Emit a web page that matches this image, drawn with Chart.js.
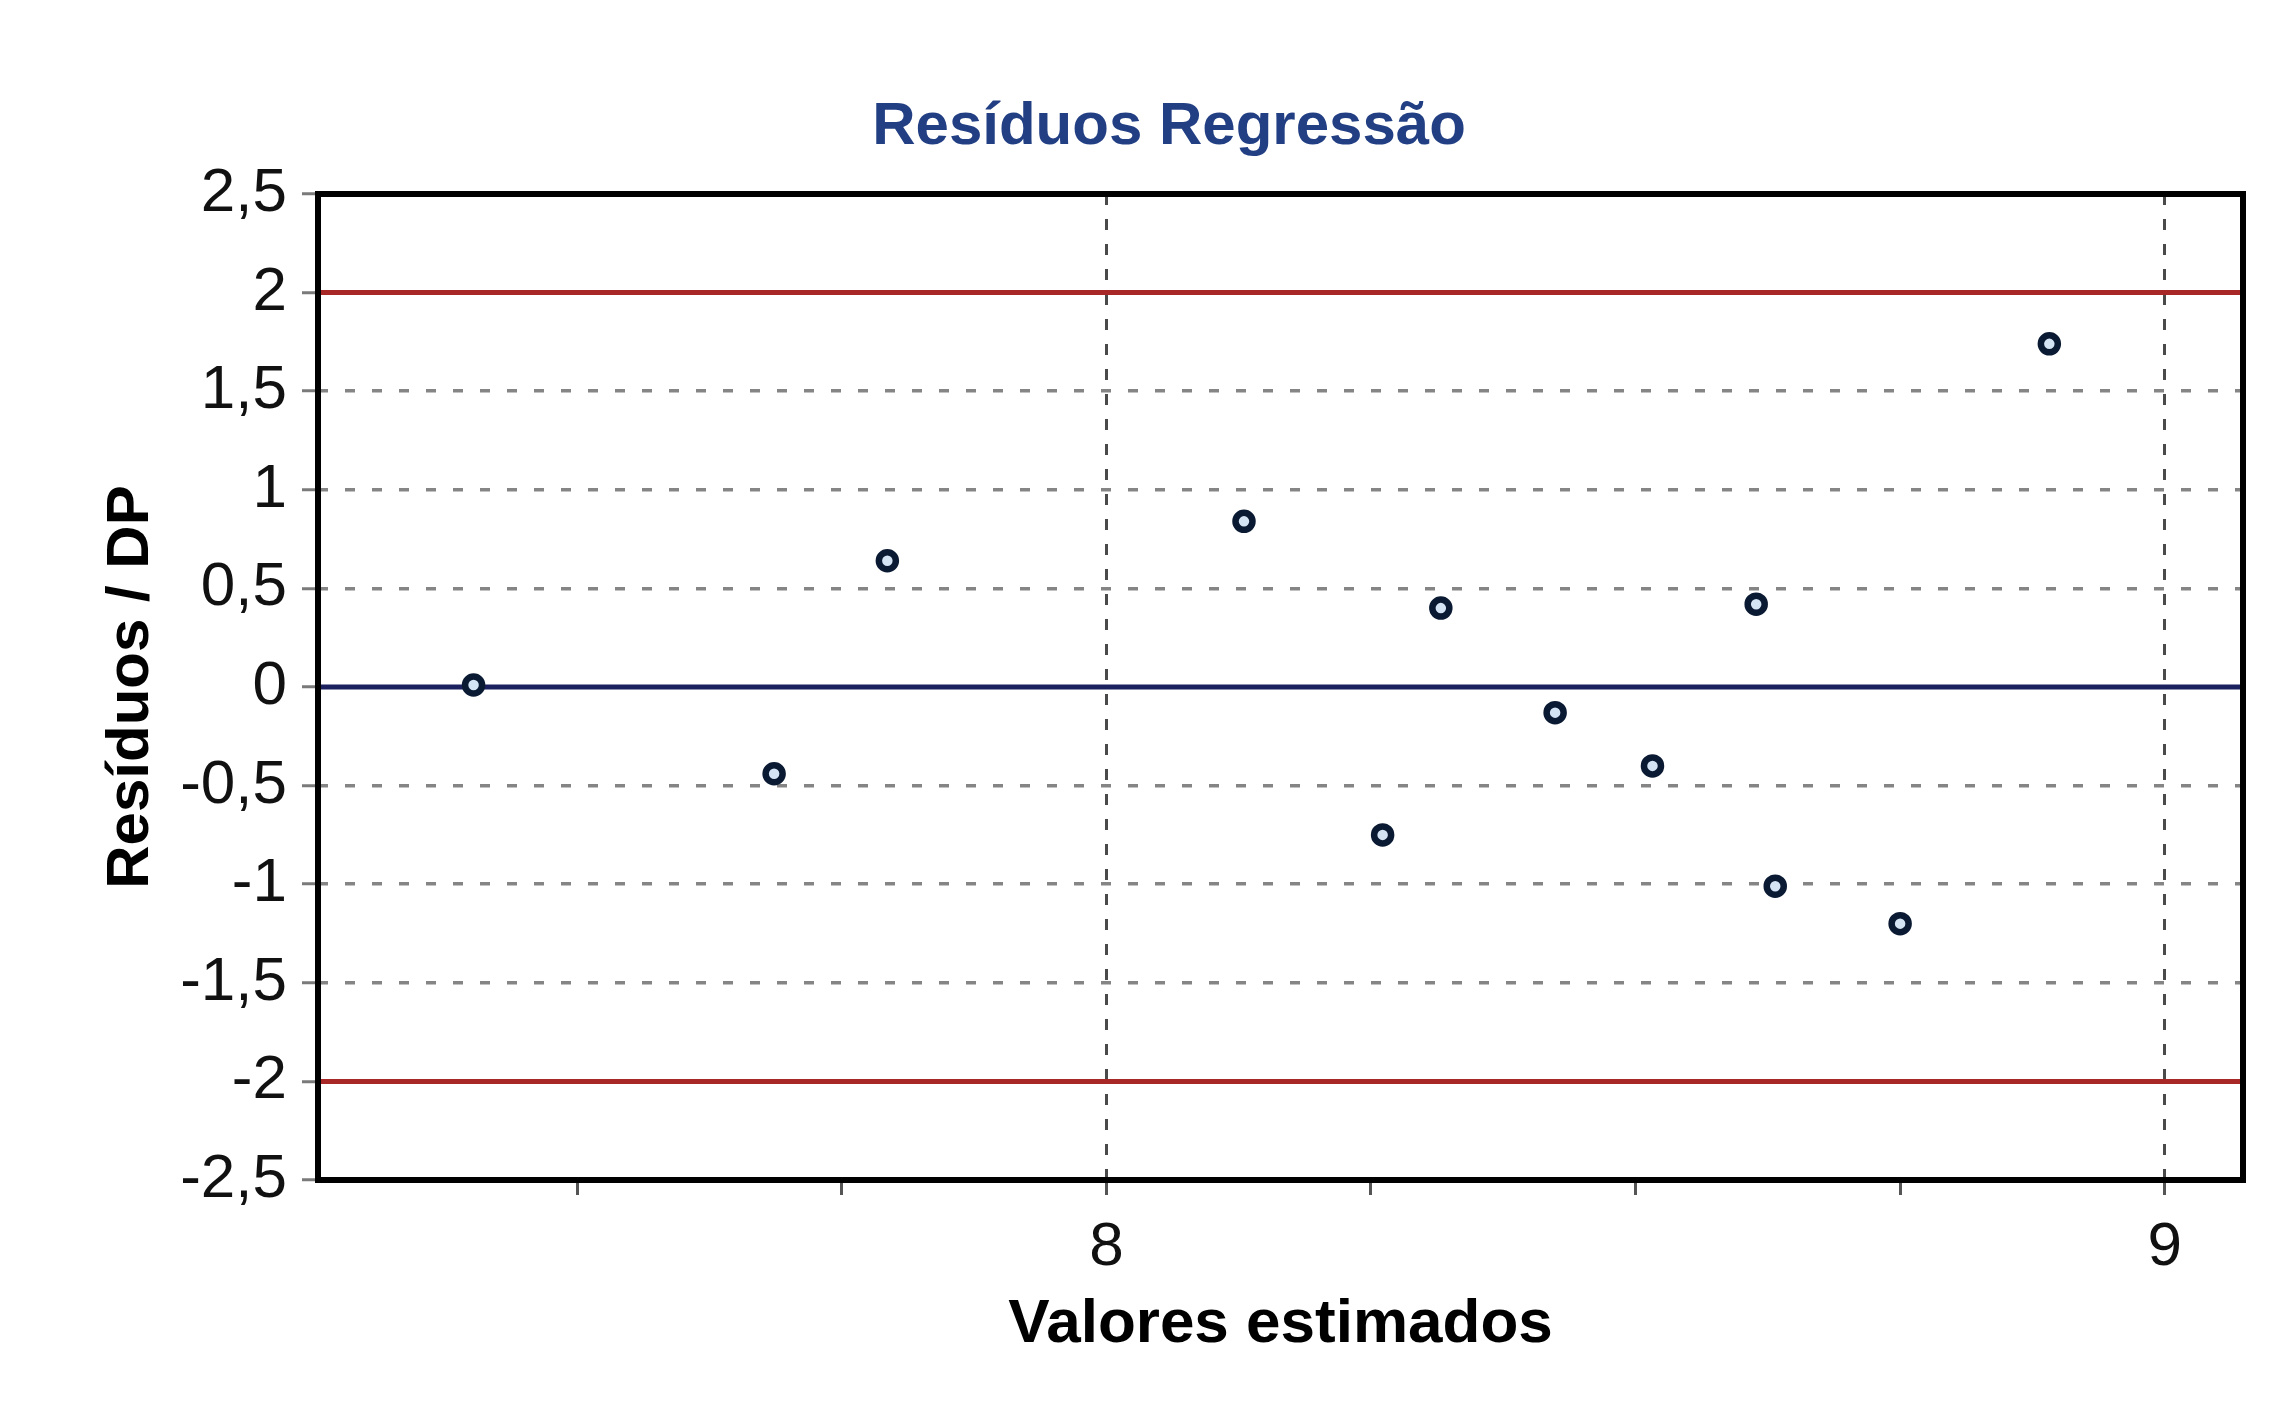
<!DOCTYPE html>
<html lang="pt">
<head>
<meta charset="utf-8">
<title>Resíduos Regressão</title>
<script src="https://cdn.jsdelivr.net/npm/chart.js@4/dist/chart.umd.min.js"></script>
<style>
  html, body { margin: 0; padding: 0; background: #ffffff; }
  canvas { display: block; }
</style>
</head>
<body>
<canvas id="residuos" width="2284" height="1404"></canvas>
<script>
// Valores estimados (eixo x) e resíduos padronizados (eixo y)
const valoresEstimados = [7.402, 7.686, 7.793, 8.130, 8.261, 8.316, 8.424, 8.516, 8.614, 8.632, 8.750, 8.891];
const residuosDP       = [0.01, -0.44, 0.64, 0.84, -0.75, 0.40, -0.13, -0.40, 0.42, -1.01, -1.20, 1.74];

// Limites de ±2 desvios e linha de referência no zero
const limitesDP = [2, -2];
const linhaZero = [0];

// Extensão dos eixos
const xRange = [7.255, 9.074];
const yRange = [-2.5, 2.5];
const xLabeledTicks = [8, 9];

const family = '"Liberation Sans", Arial, sans-serif';
const toComma = v => String(v).replace('.', ',');

const hLine = (v, color) => ({
  type: 'line',
  data: [{ x: xRange[0], y: v }, { x: xRange[1], y: v }],
  borderColor: color,
  borderWidth: 5,
  pointRadius: 0,
  showLine: true,
  fill: false
});

const datasets = [
  {
    type: 'scatter',
    label: 'Resíduos',
    data: valoresEstimados.map((x, i) => ({ x, y: residuosDP[i] })),
    pointStyle: 'circle',
    pointRadius: 8.5,
    pointBorderWidth: 6.5,
    pointBorderColor: '#0b1a33',
    pointBackgroundColor: '#d4e4f4'
  },
  ...limitesDP.map(v => hLine(v, '#a82828')),
  ...linhaZero.map(v => hLine(v, '#1b215e'))
];

// Moldura preta em volta da área do gráfico
const plotFrame = {
  id: 'plotFrame',
  afterDatasetsDraw(chart) {
    const { ctx, chartArea: a } = chart;
    ctx.save();
    ctx.strokeStyle = '#000000';
    ctx.lineWidth = 6;
    ctx.strokeRect(a.left, a.top, a.right - a.left, a.bottom - a.top);
    ctx.restore();
  }
};

new Chart(document.getElementById('residuos'), {
  type: 'scatter',
  data: { datasets },
  plugins: [plotFrame],
  options: {
    responsive: false,
    animation: false,
    events: [],
    layout: { padding: { left: 95, right: 41, top: 0, bottom: 0 } },
    plugins: {
      legend: { display: false },
      tooltip: { enabled: false },
      title: {
        display: true,
        text: 'Resíduos Regressão',
        color: '#223f84',
        font: { family, size: 60, weight: 'bold', lineHeight: 1.2 },
        padding: { top: 91, bottom: 31 }
      }
    },
    scales: {
      x: {
        type: 'linear',
        min: xRange[0],
        max: xRange[1],
        afterFit(scale) { scale.height = 224; },
        border: { display: false, dash: [11, 14] },
        grid: {
          color: c => (c.tick && xLabeledTicks.includes(c.tick.value)) ? '#4a4a4a' : 'rgba(0,0,0,0)',
          lineWidth: 3,
          tickColor: '#555555',
          tickWidth: 3,
          tickLength: 15,
          tickBorderDash: []
        },
        ticks: {
          stepSize: 0.25,
          includeBounds: false,
          autoSkip: false,
          maxRotation: 0,
          padding: 16,
          color: '#111111',
          font: { family, size: 62, lineHeight: 1.2 },
          callback: v => xLabeledTicks.includes(v) ? String(v) : ''
        },
        title: {
          display: true,
          text: 'Valores estimados',
          color: '#000000',
          font: { family, size: 62, weight: 'bold', lineHeight: 1.2 },
          padding: { top: 0, bottom: 42 }
        }
      },
      y: {
        type: 'linear',
        min: yRange[0],
        max: yRange[1],
        afterFit(scale) { scale.width = 223; },
        border: { display: false, dash: [10, 17] },
        grid: {
          color: c => {
            const v = c.tick ? c.tick.value : null;
            return (v === null || Math.abs(v) === 2.5) ? 'rgba(0,0,0,0)' : '#858585';
          },
          lineWidth: 3.5,
          tickColor: '#7a7a7a',
          tickWidth: 3,
          tickLength: 16,
          tickBorderDash: []
        },
        ticks: {
          stepSize: 0.5,
          padding: 15,
          color: '#111111',
          font: { family, size: 62, lineHeight: 1.2 },
          callback: v => toComma(v)
        },
        title: {
          display: true,
          text: 'Resíduos / DP',
          color: '#000000',
          font: { family, size: 60, weight: 'bold', lineHeight: 1.2 },
          padding: { top: 0, bottom: 0 }
        }
      }
    }
  }
});
</script>
</body>
</html>
